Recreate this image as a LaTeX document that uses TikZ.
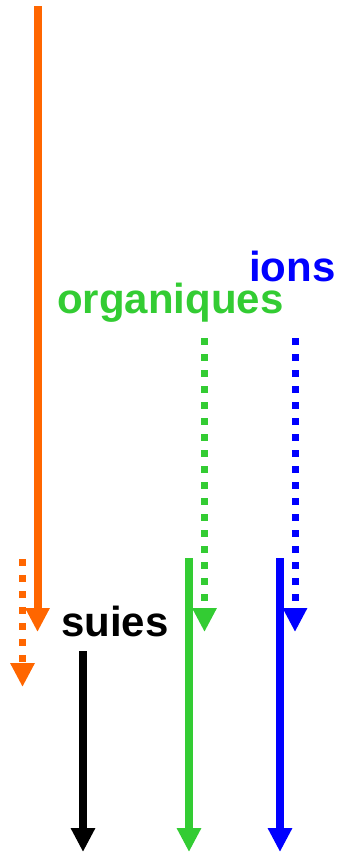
\documentclass[tikz,border=0pt]{standalone}
\usepackage{fontspec}
\setmainfont{Liberation Sans}
\usetikzlibrary{arrows.meta}
\definecolor{corange}{RGB}{255,102,0}
\definecolor{cgreen}{RGB}{51,204,51}
\definecolor{cblue}{RGB}{0,0,255}
\tikzset{
  solidarrow/.style={line width=8pt, line cap=butt, -{Triangle[length=24pt,width=23pt]}},
  dotarrow/.style={line width=7pt, line cap=butt, dash pattern=on 7pt off 9pt, -{Triangle[length=24pt,width=23pt]}},
  label/.style={inner sep=0pt, anchor=base west, font=\bfseries\fontsize{42}{50}\selectfont}
}
\begin{document}
\begin{tikzpicture}[x=1pt,y=-1pt]
\useasboundingbox (0,0) rectangle (339,854);
% coordinates
\coordinate (oS) at (37.5,6);
\coordinate (oE) at (37.5,632);
\coordinate (odS) at (22.5,559);
\coordinate (odE) at (22.5,687);
\coordinate (gdS) at (204.5,338);
\coordinate (gdE) at (204.5,632);
\coordinate (bdS) at (295,338);
\coordinate (bdE) at (295,632);
\coordinate (kS) at (83,651);
\coordinate (kE) at (83,852);
\coordinate (gS) at (189,558);
\coordinate (gE) at (189,852);
\coordinate (bS) at (280,558);
\coordinate (bE) at (280,852);
% labels
\node[label, text=black] (suies) at (61,636) {suies};
\node[label, text=cgreen] (org) at (57,313) {organiques};
\node[label, text=cblue, text depth=0pt] (ions) at (249,281.5) {ions};
% arrows
\draw[solidarrow, corange] (oS) -- (oE);
\draw[dotarrow, corange] (odS) -- (odE);
\draw[dotarrow, cgreen] (gdS) -- (gdE);
\draw[dotarrow, cblue] (bdS) -- (bdE);
\draw[solidarrow, black] (kS) -- (kE);
\draw[solidarrow, cgreen] (gS) -- (gE);
\draw[solidarrow, cblue] (bS) -- (bE);
\end{tikzpicture}
\end{document}
